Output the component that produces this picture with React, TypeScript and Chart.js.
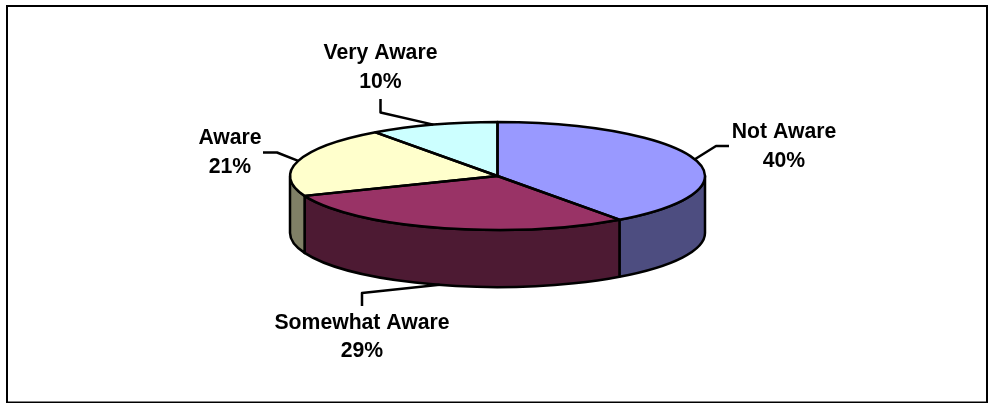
import { useEffect, useRef } from "react";
import { Chart, registerables } from "chart.js";

Chart.register(...registerables);

// Survey responses
const categories = ["Not Aware", "Somewhat Aware", "Aware", "Very Aware"];
const shares = [40, 29, 21, 10];
const topColors = ["#9999FF", "#993366", "#FFFFCC", "#CCFFFF"];
const sideColors = ["#4D4D80", "#4D1A33", "#808066", "#668080"];

// Tilted disc proportions
const RADIUS_X = 207.5;
const RADIUS_Y = 54;
const DEPTH = 57;
const LINE = 2.5;
const FONT = 'bold 21.2px "Liberation Sans", Arial, sans-serif';

// Leader-line routing and text anchor for each slice label
const labelLayout = [
  { elbow: [716, 146], end: [729, 146], text: [784, 132.5] },
  { elbow: [362, 293], end: [362, 306], text: [362, 323] },
  { elbow: [277, 152.5], end: [263, 152.5], text: [230, 138.5] },
  { elbow: [380.5, 112.5], end: [380.5, 99], text: [380.5, 53.5] },
];

const disc3d = {
  id: "disc3d",
  beforeDraw(chart: any) {
    const { ctx, width, height } = chart;
    ctx.save();
    ctx.fillStyle = "#FFFFFF";
    ctx.fillRect(0, 0, width, height);
    ctx.strokeStyle = "#000000";
    ctx.lineWidth = 2;
    ctx.strokeRect(7, 6, 980, 396.5);
    ctx.restore();
  },
  beforeDatasetsDraw(chart: any) {
    const { ctx } = chart;
    const arcs = chart.getDatasetMeta(0).data;
    const { x: cx, y: cy, outerRadius } = arcs[0];
    ctx.save();
    ctx.lineWidth = LINE;
    ctx.lineJoin = "round";
    ctx.strokeStyle = "#000000";
    arcs.forEach((arc: any, i: number) => {
      // Only the part of a slice facing the viewer (0..PI on the ellipse) has a visible wall
      const a = Math.max(arc.startAngle, 0);
      const b = Math.min(arc.endAngle, Math.PI);
      if (b <= a) return;
      ctx.beginPath();
      ctx.ellipse(cx, cy, RADIUS_X, RADIUS_Y, 0, a, b, false);
      ctx.ellipse(cx, cy + DEPTH, RADIUS_X, RADIUS_Y, 0, b, a, true);
      ctx.closePath();
      ctx.fillStyle = sideColors[i];
      ctx.fill();
      ctx.stroke();
    });
    ctx.restore();

    // Squash the library's circular arcs into the tilted ellipse
    ctx.save();
    ctx.translate(cx, cy);
    ctx.scale(RADIUS_X / outerRadius, RADIUS_Y / outerRadius);
    ctx.translate(-cx, -cy);
  },
  afterDatasetsDraw(chart: any) {
    const { ctx } = chart;
    ctx.restore();
    const arcs = chart.getDatasetMeta(0).data;
    const { x: cx, y: cy } = arcs[0];

    ctx.save();
    ctx.lineWidth = LINE;
    ctx.lineJoin = "round";
    ctx.strokeStyle = "#000000";
    arcs.forEach((arc: any) => {
      ctx.beginPath();
      ctx.moveTo(cx, cy);
      ctx.ellipse(cx, cy, RADIUS_X, RADIUS_Y, 0, arc.startAngle, arc.endAngle, false);
      ctx.closePath();
      ctx.stroke();
    });

    ctx.fillStyle = "#000000";
    ctx.font = FONT;
    ctx.textAlign = "center";
    ctx.textBaseline = "middle";
    arcs.forEach((arc: any, i: number) => {
      const mid = (arc.startAngle + arc.endAngle) / 2;
      const startX = cx + RADIUS_X * Math.cos(mid);
      let startY = cy + RADIUS_Y * Math.sin(mid);
      if (Math.sin(mid) > 0) startY += DEPTH;
      const { elbow, end, text } = labelLayout[i];
      ctx.beginPath();
      ctx.moveTo(startX, startY);
      ctx.lineTo(elbow[0], elbow[1]);
      ctx.lineTo(end[0], end[1]);
      ctx.stroke();
      ctx.fillText(categories[i], text[0], text[1]);
      ctx.fillText(`${shares[i]}%`, text[0], text[1] + 28.5);
    });
    ctx.restore();
  },
};

export default function App() {
  const ref = useRef<HTMLCanvasElement>(null);
  useEffect(() => {
    const chart = new Chart(ref.current!, {
      type: "pie",
      data: {
        labels: categories,
        datasets: [
          {
            data: shares,
            backgroundColor: topColors,
            borderWidth: 0,
          },
        ],
      },
      options: {
        responsive: false,
        animation: false,
        events: [],
        layout: { padding: { left: 290, right: 283, top: 0, bottom: 51 } },
        plugins: { legend: { display: false }, tooltip: { enabled: false } },
      },
      plugins: [disc3d],
    });
    return () => chart.destroy();
  }, []);
  return (
    <canvas
      ref={ref}
      width={988}
      height={403}
      style={{ position: "absolute", left: 0, top: 0, display: "block" }}
    />
  );
}
